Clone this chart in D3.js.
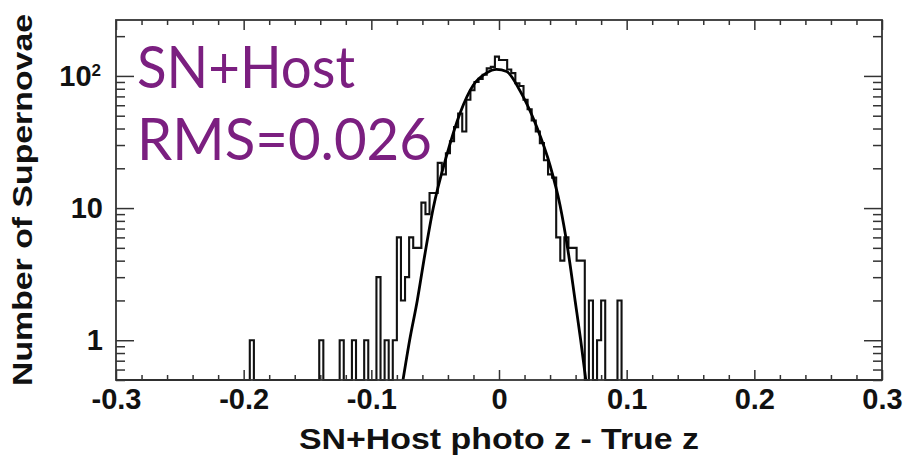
<!DOCTYPE html>
<html>
<head>
<meta charset="utf-8">
<script src="https://cdn.jsdelivr.net/npm/d3@7"></script>
<style>
  html, body { margin: 0; padding: 0; background: #fff; }
  svg { display: block; }
</style>
</head>
<body>
<svg id="chart"></svg>
<script>
const width = 903;
const height = 460;

// histogram of SN+Host photo z - true z (lower bin edge, counts), bins are 0.0032 wide
const binWidth = 0.0032;
const binLo = [
  -0.1952, -0.1408, -0.1248, -0.1152, -0.1056, -0.0960, -0.0896, -0.0832,
  -0.0800, -0.0768, -0.0736, -0.0704, -0.0672, -0.0640, -0.0608, -0.0576,
  -0.0544, -0.0512, -0.0480, -0.0448, -0.0416, -0.0384, -0.0352, -0.0320,
  -0.0288, -0.0256, -0.0224, -0.0192, -0.0160, -0.0128, -0.0096, -0.0064,
  -0.0032, 0.0000, 0.0032, 0.0064, 0.0096, 0.0128, 0.0160, 0.0192,
  0.0224, 0.0256, 0.0288, 0.0320, 0.0352, 0.0384, 0.0416, 0.0448,
  0.0480, 0.0512, 0.0544, 0.0576, 0.0608, 0.0640, 0.0704, 0.0768,
  0.0800, 0.0928
];
const counts = [
  1, 1, 1, 1, 1, 3, 1, 1,
  6, 2, 3, 6, 5, 5, 11, 9,
  13, 13, 22, 18, 26, 32, 41, 52,
  38, 66, 78, 90, 95, 102, 114, 117,
  140, 132, 132, 112, 105, 88, 84, 66,
  56, 46, 38, 31, 23, 18, 17, 6,
  4, 6, 5, 5, 4, 4, 2, 1,
  2, 2
];

// gaussian fit curve
const fitZ = [-0.0752, -0.0700, -0.0640, -0.0580, -0.0515, -0.0410, -0.0306, -0.0202, -0.0100, -0.0020,
              0.0060, 0.0165, 0.0296, 0.0400, 0.0478, 0.0540, 0.0596, 0.0640, 0.0680];
const fitN = [0.5, 1.0, 2.0, 4.5, 10, 25, 52, 85, 105, 112,
              108, 77, 41, 21, 10.5, 4.8, 2.0, 1.0, 0.5];

const xMajor = [-0.3, -0.2, -0.1, 0, 0.1, 0.2, 0.3];
const xLabels = ["-0.3", "-0.2", "-0.1", "0", "0.1", "0.2", "0.3"];
const yMajor = [1, 10, 100];
const yLabels = ["1", "10", "10"];

const margin = { top: 20, right: 21, bottom: 80, left: 116 };

const svg = d3.select("#chart")
  .attr("width", width)
  .attr("height", height)
  .style("background", "#fff");

const x = d3.scaleLinear()
  .domain([-0.3, 0.3])
  .range([margin.left, width - margin.right]);

const y = d3.scaleLog()
  .domain([0.5, 265])
  .range([height - margin.bottom, margin.top]);

const xMinor = d3.range(-0.3, 0.3001, 0.02).filter(v => !xMajor.some(m => Math.abs(m - v) < 1e-6));
const yMinor = [];
[0.1, 1, 10, 100].forEach(dec => {
  for (let k = 2; k <= 9; k++) {
    const v = dec * k;
    if (v >= 0.5 && v <= 265) yMinor.push(v);
  }
});

svg.append("clipPath").attr("id", "plot")
  .append("rect")
  .attr("x", margin.left)
  .attr("y", margin.top)
  .attr("width", width - margin.left - margin.right)
  .attr("height", height - margin.top - margin.bottom);

const bottomY = y.range()[0];

// step outline of the histogram, zero bins sit on the bottom of the frame
const bins = binLo.map((lo, i) => ({ lo: lo, hi: lo + binWidth, n: counts[i] }));
const pts = [[x(-0.3), bottomY]];
let prevHi = -0.3;
bins.forEach(b => {
  if (b.lo - prevHi > 1e-9) {
    pts.push([x(prevHi), bottomY]);
    pts.push([x(b.lo), bottomY]);
  }
  pts.push([x(b.lo), y(b.n)]);
  pts.push([x(b.hi), y(b.n)]);
  prevHi = b.hi;
});
pts.push([x(prevHi), bottomY]);
pts.push([x(0.3), bottomY]);

svg.append("path")
  .attr("d", d3.line()(pts))
  .attr("fill", "none")
  .attr("stroke", "#111")
  .attr("stroke-width", 2.1)
  .attr("stroke-linejoin", "miter");

const fit = fitZ.map((z, i) => ({ z: z, n: fitN[i] }));
svg.append("path")
  .datum(fit)
  .attr("clip-path", "url(#plot)")
  .attr("d", d3.line().x(d => x(d.z)).y(d => y(d.n)).curve(d3.curveMonotoneX))
  .attr("fill", "none")
  .attr("stroke", "#000")
  .attr("stroke-width", 2.8);

// axes, ticks point inward on all four sides
function styleAxis(g) {
  g.select(".domain").remove();
  g.selectAll(".tick line").attr("stroke", "#333").attr("stroke-width", 1.5);
  g.selectAll("text")
    .attr("fill", "#111")
    .style("font-family", "'Liberation Sans', Arial, sans-serif")
    .style("font-weight", "bold")
    .style("font-size", "29px");
}

svg.append("g")
  .attr("transform", `translate(0,${bottomY})`)
  .call(d3.axisBottom(x).tickValues(xMajor).tickSize(-10).tickPadding(8)
    .tickFormat((d, i) => xLabels[i]))
  .call(styleAxis);
svg.append("g")
  .attr("transform", `translate(0,${bottomY})`)
  .call(d3.axisBottom(x).tickValues(xMinor).tickSize(-5).tickFormat(""))
  .call(styleAxis);
svg.append("g")
  .attr("transform", `translate(0,${margin.top})`)
  .call(d3.axisTop(x).tickValues(xMajor).tickSize(-10).tickFormat(""))
  .call(styleAxis);
svg.append("g")
  .attr("transform", `translate(0,${margin.top})`)
  .call(d3.axisTop(x).tickValues(xMinor).tickSize(-5).tickFormat(""))
  .call(styleAxis);

const yAxisG = svg.append("g")
  .attr("transform", `translate(${margin.left},0)`)
  .call(d3.axisLeft(y).tickValues(yMajor).tickSize(-18).tickPadding(13)
    .tickFormat((d, i) => yLabels[i]))
  .call(styleAxis);
yAxisG.selectAll(".tick text").filter(d => d === 100)
  .append("tspan")
  .attr("dy", "-0.55em")
  .style("font-size", "17px")
  .text("2");
yAxisG.selectAll(".tick text").filter(d => d === 100).attr("dx", "-2px");

svg.append("g")
  .attr("transform", `translate(${margin.left},0)`)
  .call(d3.axisLeft(y).tickValues(yMinor).tickSize(-9).tickFormat(""))
  .call(styleAxis);
svg.append("g")
  .attr("transform", `translate(${width - margin.right},0)`)
  .call(d3.axisRight(y).tickValues(yMajor).tickSize(-18).tickFormat(""))
  .call(styleAxis);
svg.append("g")
  .attr("transform", `translate(${width - margin.right},0)`)
  .call(d3.axisRight(y).tickValues(yMinor).tickSize(-9).tickFormat(""))
  .call(styleAxis);

// frame
svg.append("rect")
  .attr("x", margin.left)
  .attr("y", margin.top)
  .attr("width", width - margin.left - margin.right)
  .attr("height", height - margin.top - margin.bottom)
  .attr("fill", "none")
  .attr("stroke", "#333")
  .attr("stroke-width", 1.8);

// axis titles
svg.append("text")
  .attr("x", (margin.left + width - margin.right) / 2)
  .attr("y", 449)
  .attr("text-anchor", "middle")
  .attr("textLength", 400)
  .attr("lengthAdjust", "spacingAndGlyphs")
  .style("font-family", "'Liberation Sans', Arial, sans-serif")
  .style("font-weight", "bold")
  .style("font-size", "29px")
  .attr("fill", "#111")
  .text("SN+Host photo z - True z");

svg.append("text")
  .attr("transform", "translate(32,200) rotate(-90)")
  .attr("text-anchor", "middle")
  .attr("textLength", 372)
  .attr("lengthAdjust", "spacingAndGlyphs")
  .style("font-family", "'Liberation Sans', Arial, sans-serif")
  .style("font-weight", "bold")
  .style("font-size", "27px")
  .attr("fill", "#111")
  .text("Number of Supernovae");

// overlay annotation
const note = svg.append("g")
  .style("font-family", "Lato, 'Open Sans', sans-serif")
  .attr("fill", "#7b1f80");
note.append("text")
  .attr("x", 137).attr("y", 88)
  .attr("textLength", 218)
  .attr("lengthAdjust", "spacingAndGlyphs")
  .style("font-size", "59px")
  .text("SN+Host");
note.append("text")
  .attr("x", 137).attr("y", 160)
  .attr("textLength", 295)
  .attr("lengthAdjust", "spacingAndGlyphs")
  .style("font-size", "59px")
  .text("RMS=0.026");
</script>
</body>
</html>
